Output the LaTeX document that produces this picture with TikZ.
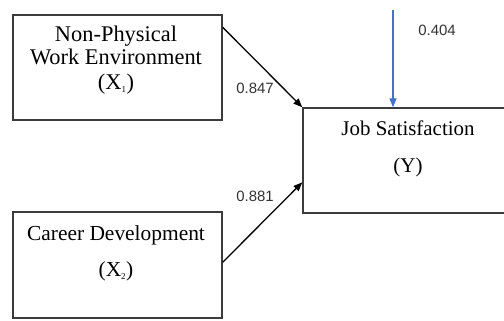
\documentclass[tikz,border=0pt]{standalone}
\usepackage{fontspec}
\setmainfont{Liberation Serif}
\newfontfamily\lblfont{Liberation Sans}
\usetikzlibrary{arrows.meta,calc}
\definecolor{boxline}{HTML}{3C3C3C}
\definecolor{lblgray}{HTML}{333333}
\definecolor{bluearr}{HTML}{4472C4}
\tikzset{
  varbox/.style={draw=boxline, line width=1.4bp, rectangle, inner sep=0pt},
  boxtext/.style={font=\fontsize{22.5}{24}\selectfont, text=black, inner sep=0pt, anchor=base},
  coef/.style={font=\lblfont\fontsize{15}{16}\selectfont, text=lblgray, inner sep=0pt},
  pathline/.style={draw=black, line width=1.3bp, -{Triangle[length=9bp,width=7bp]}},
  bpathline/.style={draw=bluearr, line width=1.3bp, -{Triangle[length=9bp,width=7bp]}}
}
\begin{document}
\begin{tikzpicture}[x=1bp,y=-1bp]
\useasboundingbox (0,0) rectangle (504,320);
\clip (0,0) rectangle (504,320);
% boxes
\node[varbox, minimum width=209bp, minimum height=105bp] (X1) at (117.5,67.5) {};
\node[varbox, minimum width=209bp, minimum height=106bp] (X2) at (117.5,265) {};
\node[varbox, minimum width=212bp, minimum height=105bp] (Y) at (409,160.5) {};
% texts
\node[boxtext] (t1) at (116,41) {Non-Physical};
\node[boxtext] (t2) at (116,64) {Work Environment};
\node[boxtext] (t3) at (116,89) {(X\textsubscript{\fontsize{9}{9}\selectfont 1})};
\node[boxtext, font=\fontsize{21.5}{24}\selectfont] (t4) at (116,240) {Career Development};
\node[boxtext, font=\fontsize{21.5}{24}\selectfont] (t5) at (116,276) {(X\textsubscript{\fontsize{9}{9}\selectfont 2})};
\node[boxtext, font=\fontsize{21}{24}\selectfont] (t6) at (408,135) {Job Satisfaction};
\node[boxtext, font=\fontsize{21}{24}\selectfont] (t7) at (408,172) {(Y)};
% connector endpoints
\coordinate (s1) at ($(X1.north east)+(0,13)$);
\coordinate (s2) at ($(X2.north east)+(0,51)$);
\coordinate (e2) at ($(Y.north west)+(0,75)$);
\coordinate (btop) at (393,10);
\coordinate (bend) at (Y.north west -| btop);
\draw[pathline] (s1) -- (Y.north west);
\draw[pathline] (s2) -- (e2);
\draw[bpathline] (btop) -- (bend);
% coefficients
\node[coef] (c1) at (255,88) {0.847};
\node[coef] (c2) at (255,196) {0.881};
\node[coef] (c3) at (437,30) {0.404};
\end{tikzpicture}
\end{document}
